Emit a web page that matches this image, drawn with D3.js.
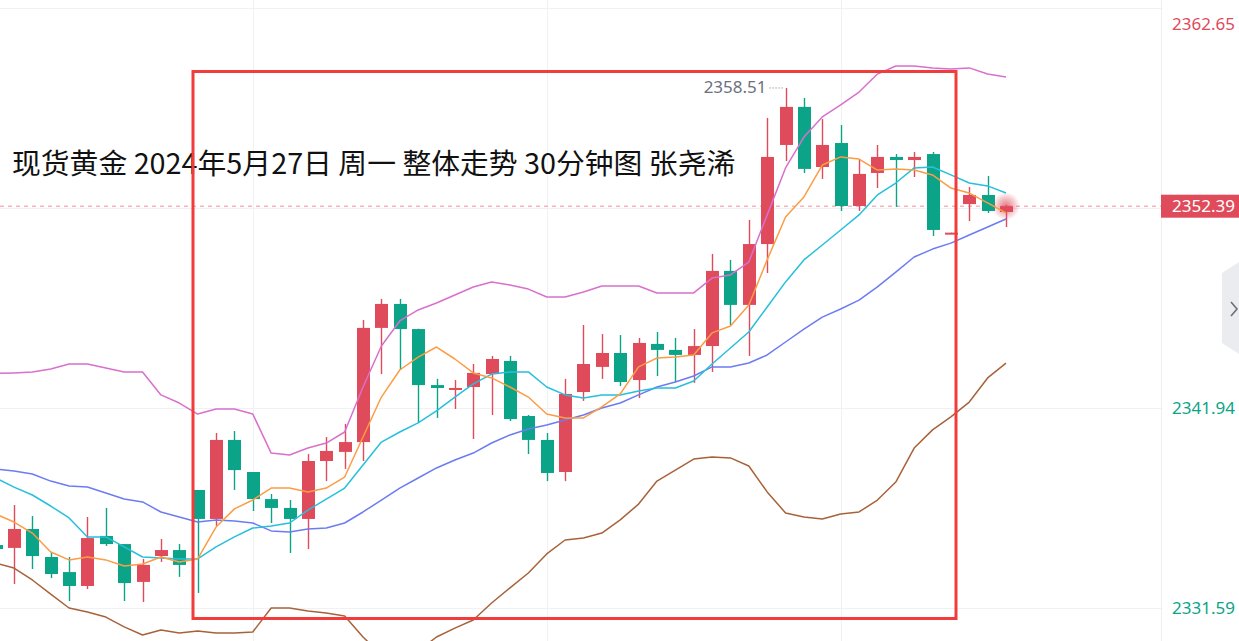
<!DOCTYPE html>
<html><head><meta charset="utf-8">
<script src="https://cdn.jsdelivr.net/npm/d3@7/dist/d3.min.js"></script>
<style>html,body{margin:0;padding:0;background:#fff;overflow:hidden}</style>
</head><body><svg id="c" width="1239" height="641"></svg>
<script>
// ---- data (30-minute bars, price in USD/oz) ----
const opens=[2334.85,2334.70,2335.68,2334.23,2333.45,2332.73,2335.32,2334.90,2332.94,2334.28,2334.59,2337.70,2336.20,2340.29,2338.63,2337.23,2336.77,2336.20,2339.20,2339.67,2340.18,2346.09,2347.33,2346.03,2343.13,2342.93,2343.03,2343.70,2344.38,2341.53,2340.29,2338.63,2342.77,2344.07,2344.79,2343.39,2345.26,2344.95,2344.69,2345.15,2349.04,2347.28,2350.43,2355.56,2357.53,2354.42,2355.66,2352.40,2354.11,2354.94,2354.78,2355.09,2350.98,2352.50,2352.97,2352.09];
const highs=[2334.95,2336.92,2336.35,2334.44,2334.23,2336.30,2336.77,2334.90,2334.13,2335.16,2334.90,2337.70,2340.65,2340.75,2338.63,2337.49,2337.18,2339.56,2340.44,2341.12,2346.50,2347.59,2347.59,2346.05,2343.45,2343.39,2344.22,2344.64,2344.64,2341.58,2340.65,2343.45,2346.24,2345.77,2345.72,2345.57,2345.88,2345.57,2346.03,2349.92,2349.61,2351.68,2356.96,2358.51,2357.99,2356.90,2356.59,2354.83,2355.56,2355.09,2355.20,2355.20,2351.02,2353.38,2353.95,2352.45];
const lows=[2334.54,2332.83,2333.61,2333.14,2331.95,2332.57,2334.80,2331.95,2331.90,2333.97,2333.20,2332.37,2335.84,2337.70,2336.61,2335.99,2334.44,2334.64,2338.16,2338.79,2339.20,2343.70,2343.91,2341.17,2341.43,2341.89,2340.34,2341.58,2341.27,2339.56,2338.16,2338.16,2342.31,2343.45,2343.08,2342.46,2343.60,2343.29,2343.24,2343.81,2346.24,2344.64,2348.93,2354.73,2354.11,2353.80,2352.14,2352.14,2353.33,2352.35,2353.90,2350.85,2350.98,2351.62,2352.04,2351.31];
const closes=[2334.64,2335.68,2334.28,2333.35,2332.73,2335.21,2334.90,2332.88,2333.82,2334.59,2333.82,2336.20,2340.29,2338.73,2337.23,2336.77,2336.20,2339.20,2339.72,2340.18,2346.09,2347.33,2346.03,2343.13,2342.98,2342.98,2343.76,2344.48,2341.37,2340.29,2338.58,2342.67,2344.22,2344.79,2343.29,2345.31,2344.95,2344.69,2345.15,2349.04,2347.28,2350.43,2354.94,2357.53,2354.32,2355.56,2352.40,2354.06,2354.94,2354.78,2354.94,2351.16,2351.02,2352.97,2352.14,2352.39];
const ma5=[2336.46,2336.04,2335.47,2334.49,2334.08,2334.23,2334.08,2333.76,2333.87,2334.23,2333.97,2334.13,2335.78,2336.72,2337.18,2337.80,2337.80,2337.60,2337.80,2338.37,2340.44,2342.51,2343.91,2344.58,2345.10,2344.48,2343.76,2343.50,2343.03,2342.51,2341.63,2341.43,2341.43,2342.00,2342.67,2344.07,2344.53,2344.58,2344.69,2345.83,2346.19,2347.28,2349.61,2351.83,2352.87,2354.52,2354.94,2354.83,2354.26,2354.32,2354.26,2354.01,2353.33,2353.07,2352.56,2352.04];
const ma10=[2338.32,2337.85,2337.44,2336.87,2336.25,2335.27,2335.27,2334.75,2334.23,2334.18,2334.13,2334.13,2334.75,2335.27,2335.73,2335.84,2335.99,2336.66,2337.23,2337.80,2338.99,2340.18,2340.70,2341.17,2341.79,2342.51,2343.19,2343.70,2343.81,2343.81,2343.03,2342.62,2342.46,2342.62,2342.62,2342.82,2342.98,2342.98,2343.34,2344.22,2345.05,2345.88,2347.17,2348.47,2349.61,2350.38,2351.16,2351.94,2352.97,2353.59,2354.37,2354.42,2354.01,2353.59,2353.44,2353.07];
const bollMid=[2338.79,2338.68,2338.53,2338.16,2337.91,2337.85,2337.54,2337.23,2337.08,2336.56,2336.30,2336.04,2336.15,2336.09,2335.99,2335.58,2335.52,2335.68,2335.73,2335.99,2336.56,2337.18,2337.80,2338.32,2338.84,2339.25,2339.61,2340.13,2340.55,2340.86,2341.06,2341.32,2341.58,2341.94,2342.20,2342.62,2343.03,2343.29,2343.60,2344.07,2344.07,2344.27,2344.69,2345.36,2346.03,2346.65,2347.07,2347.53,2348.21,2348.98,2349.76,2350.17,2350.48,2350.90,2351.31,2351.73];
const bollUpper=[2343.73,2343.76,2343.81,2343.96,2344.22,2344.22,2344.01,2343.81,2343.81,2342.62,2342.20,2341.63,2341.89,2341.89,2341.63,2339.61,2339.51,2339.87,2340.13,2340.70,2343.03,2345.15,2346.45,2347.02,2347.38,2347.79,2348.21,2348.47,2348.31,2348.10,2347.69,2347.69,2347.95,2348.26,2348.26,2348.26,2347.90,2347.90,2347.90,2348.67,2348.83,2349.50,2351.94,2354.37,2355.97,2357.01,2357.63,2358.30,2359.23,2359.65,2359.65,2359.55,2359.49,2359.55,2359.23,2359.08];
const bollLower=[2333.92,2333.66,2333.04,2332.31,2331.59,2331.38,2331.12,2330.61,2330.19,2330.45,2330.30,2330.40,2330.30,2330.30,2330.35,2331.59,2331.59,2331.43,2331.33,2331.18,2330.09,2329.16,2328.90,2329.36,2330.09,2330.55,2330.97,2331.85,2332.63,2333.40,2334.39,2335.11,2335.21,2335.47,2336.15,2336.97,2338.16,2338.73,2339.30,2339.41,2339.36,2338.94,2337.60,2336.51,2336.30,2336.20,2336.46,2336.56,2337.18,2338.11,2339.87,2340.81,2341.48,2342.25,2343.50,2344.27];
const tickValues=[2362.65,2341.94,2331.59];
const tickLabels=["2362.65","2341.94","2331.59"];
const gridValues=[2362.65,2352.29,2341.94,2331.59];
const lastPrice=2352.39;
const highLabel="2358.51";
const title="现货黄金 2024年5月27日 周一 整体走势 30分钟图 张尧浠";

// ---- drawing ----
const W=1239,H=641,plotR=1161;
const RED="#df4b5b",GREEN="#0ca488";
const svg=d3.select('#c');
const n=opens.length;
const x=d3.scaleLinear().domain([0,n-1]).range([-4.4,1006]);
const y=d3.scaleLinear().domain([2331.59,2362.65]).range([608,8]);

const defs=svg.append('defs');
defs.append('clipPath').attr('id','plot').append('rect').attr('x',0).attr('y',0).attr('width',plotR).attr('height',H);
const rg=defs.append('radialGradient').attr('id','glow');
rg.append('stop').attr('offset','0%').attr('stop-color',RED).attr('stop-opacity',0.75);
rg.append('stop').attr('offset','55%').attr('stop-color',RED).attr('stop-opacity',0.35);
rg.append('stop').attr('offset','100%').attr('stop-color',RED).attr('stop-opacity',0);

const plot=svg.append('g').attr('clip-path','url(#plot)');
// grid
plot.selectAll('.hg').data(gridValues).enter().append('line')
  .attr('x1',0).attr('x2',plotR).attr('y1',d=>Math.round(y(d))+0.5).attr('y2',d=>Math.round(y(d))+0.5)
  .attr('stroke','#f0f1f5').attr('stroke-width',1);
plot.selectAll('.vg').data([14,30,46]).enter().append('line')
  .attr('y1',0).attr('y2',H).attr('x1',d=>Math.round(x(d))+0.5).attr('x2',d=>Math.round(x(d))+0.5)
  .attr('stroke','#f0f1f5').attr('stroke-width',1);

// last price dashed line
plot.append('line').attr('x1',0).attr('x2',plotR).attr('y1',y(lastPrice)).attr('y2',y(lastPrice))
  .attr('stroke','#f0909a').attr('stroke-width',1).attr('stroke-dasharray','4,4');

// title (under the box)
svg.append('text').attr('x',12).attr('y',174).text(title)
  .attr('font-family','"Noto Sans CJK SC","Noto Sans",sans-serif').attr('font-size',28.8).attr('fill','#111');

// candles
const idx=d3.range(n);
const bw=13;
const cg=plot.append('g');
cg.selectAll('.wick').data(idx).enter().append('line')
  .attr('x1',i=>Math.round(x(i))+0.5).attr('x2',i=>Math.round(x(i))+0.5)
  .attr('y1',i=>y(highs[i])).attr('y2',i=>y(lows[i]))
  .attr('stroke',i=>closes[i]>=opens[i]?RED:GREEN).attr('stroke-width',1.4);
// glow behind last candle
plot.append('circle').attr('cx',x(n-1)).attr('cy',y(closes[n-1])).attr('r',14).attr('fill','url(#glow)');
cg.selectAll('.body').data(idx).enter().append('rect')
  .attr('x',i=>Math.round(x(i))+0.5-bw/2).attr('width',bw)
  .attr('y',i=>y(Math.max(opens[i],closes[i])))
  .attr('height',i=>Math.max(2,y(Math.min(opens[i],closes[i]))-y(Math.max(opens[i],closes[i]))))
  .attr('fill',i=>closes[i]>=opens[i]?RED:GREEN);

// indicator lines
const line=d3.line().x((d,i)=>x(i)).y(d=>y(d));
const series=[[bollUpper,'#d870cc'],[bollLower,'#a8623a'],[bollMid,'#6b7cf2'],[ma10,'#27bfdc'],[ma5,'#fb9d45']];
series.forEach(([arr,col])=>{
  plot.append('path').attr('d',line(arr)).attr('fill','none').attr('stroke',col).attr('stroke-width',1.5).attr('stroke-linejoin','round');
});

// high label
const hi=d3.maxIndex(highs);
svg.append('text').attr('x',x(hi)-19).attr('y',y(highs[hi])+5).attr('text-anchor','end')
  .attr('font-family','"Noto Sans",sans-serif').attr('font-size',17).attr('fill','#6b717e').text(highLabel);
svg.append('line').attr('x1',x(hi)-16).attr('x2',x(hi)-1).attr('y1',y(highs[hi])).attr('y2',y(highs[hi]))
  .attr('stroke','#6b717e').attr('stroke-width',1).attr('stroke-dasharray','1,2');

// red annotation box
svg.append('rect').attr('x',193).attr('y',71.5).attr('width',763).attr('height',547)
  .attr('fill','none').attr('stroke','#f23b3b').attr('stroke-width',3);

// right axis
svg.append('line').attr('x1',plotR+0.5).attr('x2',plotR+0.5).attr('y1',0).attr('y2',H).attr('stroke','#eceef4');
const axis=d3.axisRight(y).tickValues(tickValues).tickSize(0).tickPadding(11).tickFormat((d,i)=>tickLabels[i]);
const ag=svg.append('g').attr('transform',`translate(${plotR},0)`).call(axis);
ag.select('.domain').remove();
ag.selectAll('text').attr('font-family','"Noto Sans",sans-serif').attr('font-size',17)
  .attr('fill',d=>d>lastPrice?RED:GREEN)
  .attr('dy',d=>y(d)<16?'1.25em':'0.32em');

// last price tag
const ly=y(lastPrice);
svg.append('rect').attr('x',plotR).attr('y',ly-11.5).attr('width',W-plotR).attr('height',23).attr('fill',RED);
svg.append('text').attr('x',plotR+11).attr('y',ly).attr('dy','0.35em').text(lastPrice.toFixed(2))
  .attr('font-family','"Noto Sans",sans-serif').attr('font-size',17).attr('fill','#fff');

// side collapse button
svg.append('path').attr('d','M1239,262 L1222,273 L1222,343 L1239,354 Z').attr('fill','#ebecf0');
svg.append('path').attr('d','M1231,302 L1237,309 L1231,316').attr('fill','none').attr('stroke','#6a6e78').attr('stroke-width',1.6);
</script></body></html>
